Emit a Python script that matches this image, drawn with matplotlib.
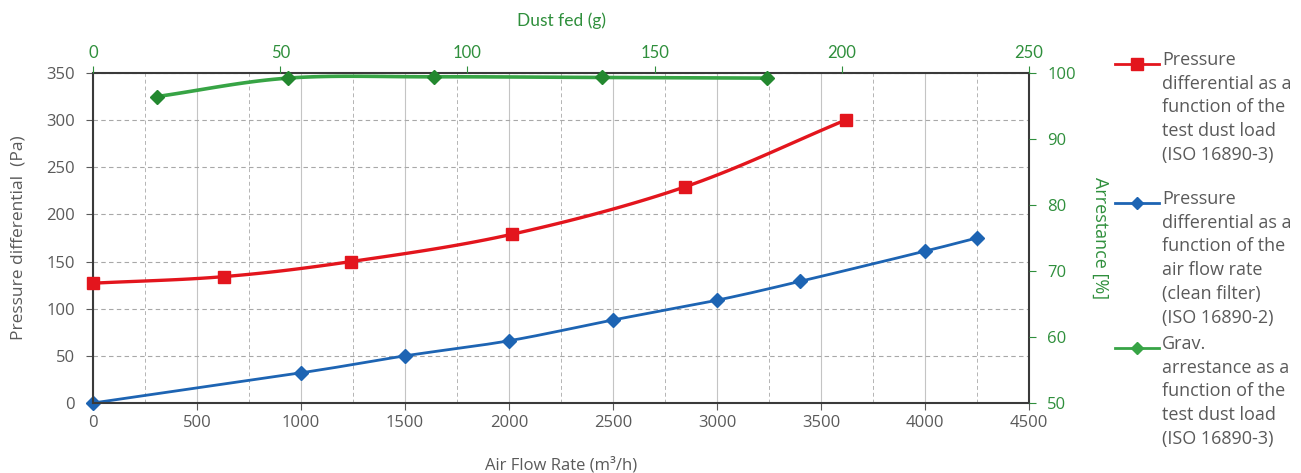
import numpy as np
import matplotlib
matplotlib.use("Agg")
import matplotlib.pyplot as plt
from matplotlib.lines import Line2D
from matplotlib.ticker import MultipleLocator

plt.rcParams['font.family'] = ['Open Sans', 'DejaVu Sans']

# pressure differential vs test dust load (ISO 16890-3)
dust_red = [0, 35, 69, 112, 158, 201]
pa_red = [127, 134, 150, 179, 229, 300]

# pressure differential vs air flow rate, clean filter (ISO 16890-2)
flow_blue = [0, 1000, 1500, 2000, 2500, 3000, 3400, 4000, 4250]
pa_blue = [0, 32, 50, 66, 88, 109, 129, 161, 175]

# gravimetric arrestance vs test dust load
dust_green = [17, 52, 91, 136, 180]
arr_green = [96.4, 99.2, 99.4, 99.3, 99.2]

legend_labels = [
    "Pressure\ndifferential as a\nfunction of the\ntest dust load\n(ISO 16890-3)",
    "Pressure\ndifferential as a\nfunction of the\nair flow rate\n(clean filter)\n(ISO 16890-2)",
    "Grav.\narrestance as a\nfunction of the\ntest dust load\n(ISO 16890-3)",
]

GREY = '#5a5a5a'
GREEN = '#2f8f3c'
RED = '#e3151d'
BLUE = '#1d64b3'
GLINE = '#37a445'


def smooth(x, y, n=20):
    # catmull-rom curve through the points (like excel "smoothed line")
    x = np.asarray(x, float)
    y = np.asarray(y, float)
    px = np.concatenate([[2 * x[0] - x[1]], x, [2 * x[-1] - x[-2]]])
    py = np.concatenate([[2 * y[0] - y[1]], y, [2 * y[-1] - y[-2]]])
    xs, ys = [], []
    t = np.linspace(0, 1, n)
    for i in range(1, len(px) - 2):
        for p, out in ((px, xs), (py, ys)):
            p0, p1, p2, p3 = p[i - 1], p[i], p[i + 1], p[i + 2]
            out.extend(0.5 * ((2 * p1) + (-p0 + p2) * t
                              + (2 * p0 - 5 * p1 + 4 * p2 - p3) * t ** 2
                              + (-p0 + 3 * p1 - 3 * p2 + p3) * t ** 3))
    return xs, ys


fig = plt.figure(figsize=(13.01, 4.73), dpi=100)
ax = fig.add_axes([0.0715, 0.148, 0.7195, 0.698])

ax.set_xlim(0, 4500)
ax.set_ylim(0, 350)
ax.xaxis.set_major_locator(MultipleLocator(500))
ax.xaxis.set_minor_locator(MultipleLocator(250))
ax.yaxis.set_major_locator(MultipleLocator(50))
ax.grid(which='major', axis='x', color='#c4c4c4', lw=0.8)
ax.grid(which='minor', axis='x', color='#b4b4b4', lw=0.7, ls=(0, (4, 3)))
ax.grid(which='major', axis='y', color='#a8a8a8', lw=0.8, ls=(0, (4, 3)))
ax.tick_params(which='minor', length=0)
ax.tick_params(which='major', labelsize=12, colors=GREY, length=5)
ax.tick_params(axis='y', pad=8)
for s in ax.spines.values():
    s.set_color('#3a3a3a')
    s.set_linewidth(1.5)

ax.set_xlabel('Air Flow Rate (m³/h)', fontsize=12, color=GREY, labelpad=19)
ax.set_ylabel('Pressure differential  (Pa)', fontsize=12.5, color=GREY, labelpad=14)

sx, sy = smooth(flow_blue, pa_blue)
ax.plot(sx, sy, color=BLUE, lw=2, clip_on=False)
ax.plot(flow_blue, pa_blue, ls='none', marker='D', ms=7, color=BLUE, clip_on=False)

# top axis: dust fed, shared with red series (left y scale)
axt = ax.twiny()
axt.set_xlim(0, 250)
axt.set_ylim(0, 350)
axt.xaxis.set_major_locator(MultipleLocator(50))
axt.tick_params(axis='x', labelsize=12, colors=GREEN, length=5)
for lab in axt.get_xticklabels():
    lab.set_family(['Lato', 'DejaVu Sans'])
axt.set_xlabel('Dust fed (g)', fontsize=12.5, color=GREEN, labelpad=14,
               family=['Lato', 'DejaVu Sans'])
for s in axt.spines.values():
    s.set_visible(False)

sx, sy = smooth(dust_red, pa_red)
axt.plot(sx, sy, color=RED, lw=2.4, clip_on=False)
axt.plot(dust_red, pa_red, ls='none', marker='s', ms=9, color=RED, clip_on=False)

# right axis: arrestance, with top x scale
axg = axt.twinx()
axg.set_ylim(50, 100)
axg.yaxis.set_major_locator(MultipleLocator(10))
axg.tick_params(axis='y', labelsize=12, colors=GREEN, length=5, pad=8)
axg.set_ylabel('Arrestance [%]', fontsize=13, color=GREEN, rotation=-90,
               labelpad=24)
for s in axg.spines.values():
    s.set_visible(False)

sx, sy = smooth(dust_green, arr_green)
axg.plot(sx, sy, color=GLINE, lw=2.6, clip_on=False)
axg.plot(dust_green, arr_green, ls='none', marker='D', ms=7, color='#23882f',
         clip_on=False)

# legend drawn by hand so the handle sits on the first text line
entries = [(RED, 's', 8, 64), (BLUE, 'D', 6, 203), (GLINE, 'D', 6, 348)]
W, H = 1301, 473
for (col, mk, ms, ypx), text in zip(entries, legend_labels):
    yf = 1 - ypx / H
    fig.add_artist(Line2D([1115 / W, 1159 / W], [yf, yf], color=col, lw=2,
                          transform=fig.transFigure))
    fig.add_artist(Line2D([1137 / W], [yf], marker=mk, ms=ms, color=col,
                          transform=fig.transFigure))
    fig.text(1162 / W, yf + 13 / H, text, fontsize=13, color=GREY, va='top',
             ha='left', linespacing=1.41)

fig.savefig('out.png', dpi=100)
